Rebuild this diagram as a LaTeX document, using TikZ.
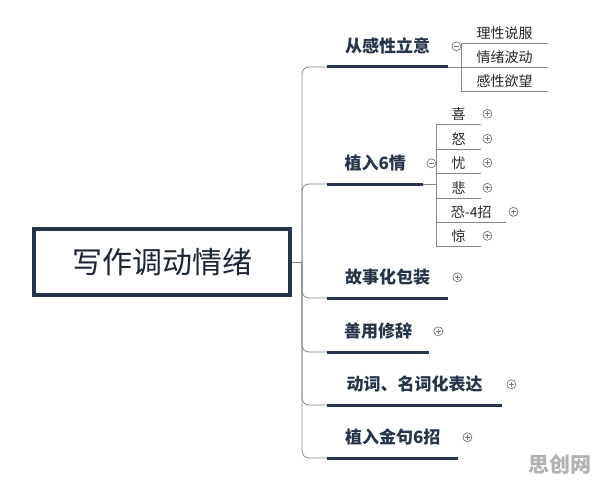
\documentclass[tikz,border=0pt]{standalone}
\usepackage{fontspec}
\setmainfont{Noto Sans CJK SC}
\definecolor{navy}{HTML}{27354A}
\definecolor{wire}{HTML}{858585}

\begin{document}
\begin{tikzpicture}[x=1pt, y=-1pt,
  rootbox/.style={draw=navy, line width=4pt, minimum width=256pt, minimum height=66pt,
    text=navy!70!black, font=\fontsize{30pt}{34pt}\selectfont},
  branch/.style={anchor=south west, inner sep=0pt, minimum height=41pt,
    text=navy, font=\bfseries\fontsize{17pt}{20pt}\selectfont},
  leaf/.style={anchor=south west, inner sep=0pt, minimum height=20pt,
    text=black!85, font=\fontsize{14pt}{16pt}\selectfont},
  bar/.style={navy, line width=3pt},
  stem/.style={wire, line width=0.8pt},
  link/.style={stem, rounded corners=7pt},
  fold/.style={circle, draw=wire!90!black, fill=white, line width=0.7pt, inner sep=0pt, minimum size=9pt},
  minus/.style={fold, path picture={\draw[wire!90!black, line width=0.7pt]
    ([xshift=2.2pt]path picture bounding box.west) -- ([xshift=-2.2pt]path picture bounding box.east);}},
  plus/.style={fold, path picture={\draw[wire!90!black, line width=0.7pt]
    ([xshift=2.2pt]path picture bounding box.west) -- ([xshift=-2.2pt]path picture bounding box.east)
    ([yshift=-2.2pt]path picture bounding box.north) -- ([yshift=2.2pt]path picture bounding box.south);}}]

  \path[fill=white, use as bounding box] (0,0) rectangle (596,481);

  % centre topic
  \node[rootbox] (root) at (162,262) {写作调动情绪};
  \coordinate (hub) at (302,262);

  % main branches
  \node[branch, minimum width=121pt] (b1) at (327,67) {从感性立意};
  \node[branch, minimum width=96pt] (b2) at (327,184) {植入6情};
  \node[branch, minimum width=121pt] (b3) at (327,298) {故事化包装};
  \node[branch, minimum width=102pt] (b4) at (327,352) {善用修辞};
  \node[branch, minimum width=175pt] (b5) at (327,405) {动词、名词化表达};
  \node[branch, minimum width=131pt] (b6) at (327,458) {植入金句6招};

  % leaves of b1
  \node[leaf, minimum width=87pt] (s11) at (461,43) {理性说服};
  \node[leaf, minimum width=87pt] (s12) at (461,67) {情绪波动};
  \node[leaf, minimum width=87pt] (s13) at (461,91) {感性欲望};
  \coordinate (k1) at (461,67);

  % leaves of b2
  \node[leaf, minimum width=45pt] (s21) at (436,124) {喜};
  \node[leaf, minimum width=45pt] (s22) at (436,149) {怒};
  \node[leaf, minimum width=45pt] (s23) at (436,173) {忧};
  \node[leaf, minimum width=45pt] (s24) at (436,198) {悲};
  \node[leaf, minimum width=70pt] (s25) at (436,222) {恐-4招};
  \node[leaf, minimum width=45pt] (s26) at (436,246) {惊};
  \coordinate (k2) at (436,184);

  % connectors
  \draw[link] (root.east) -- (hub);
  \foreach \b in {b1,b2,b3,b4,b5,b6}
    \draw[link] (hub) |- (\b.south west);
  \draw[stem] (b1.south east) -- (k1);
  \foreach \s in {s11,s12,s13}
    \draw[stem] (k1) |- (\s.south west) -- (\s.south east);
  \draw[stem] (b2.south east) -- (k2);
  \foreach \s in {s21,s22,s23,s24,s25,s26}
    \draw[stem] (k2) |- (\s.south west) -- (\s.south east);
  \foreach \b in {b1,b2,b3,b4,b5,b6}
    \draw[bar] (\b.south west) -- (\b.south east);

  % fold markers
  \node[minus] (f1) at ([xshift=8pt]b1.east) {};
  \node[minus] (f2) at ([xshift=8pt]b2.east) {};
  \node[plus] (f3) at ([xshift=9pt]b3.east) {};
  \node[plus] (f4) at ([xshift=9pt]b4.east) {};
  \node[plus] (f5) at ([xshift=9pt]b5.east) {};
  \node[plus] (f6) at ([xshift=9pt]b6.east) {};
  \foreach \s in {s21,s22,s23,s24,s26}
    \node[plus] (p\s) at ([xshift=6pt]\s.east) {};
  \node[plus] (ps25) at ([xshift=7pt]s25.east) {};

  \node[font=\bfseries\fontsize{21pt}{24pt}\selectfont, text=black!30] (mark) at (560,464) {思创网};

\end{tikzpicture}
\end{document}
